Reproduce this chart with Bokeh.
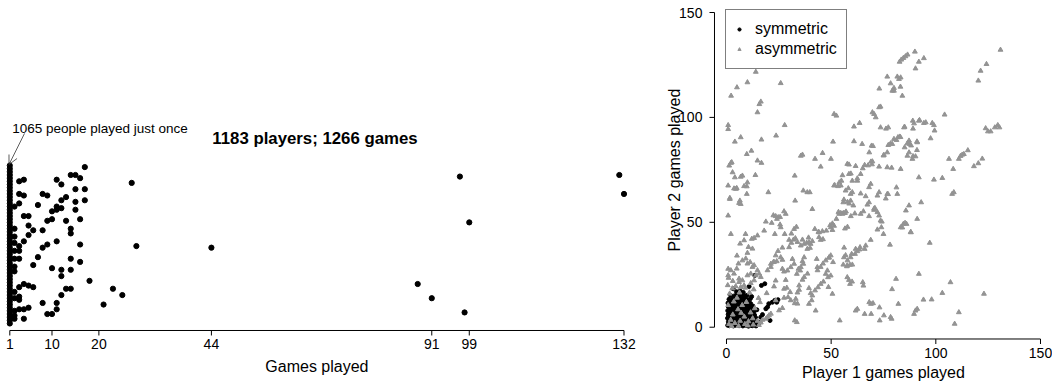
import math
from bokeh.plotting import figure
from bokeh.layouts import row
from bokeh.models import Range1d, Label, Arrow, OpenHead, Legend, LegendItem
from bokeh.core.properties import value
from bokeh.embed import file_html
from bokeh.resources import INLINE

FONT = "Liberation Sans"

# ---------------- left panel: games played per player (jittered strip) ----------------
tick_games = [1, 10, 20, 44, 91, 99, 132]
once_count = 1065
# vertical jitter of the 1065 players who played once (they merge into a bar)
once_jitter = [0.00, 0.02, 0.04, 0.06, 0.08, 0.10, 0.12, 0.14, 0.16, 0.18, 0.20, 0.22,
               0.24, 0.26, 0.28, 0.30, 0.32, 0.34, 0.36, 0.38, 0.40, 0.42, 0.44, 0.46,
               0.48, 0.50, 0.52, 0.54, 0.56, 0.58, 0.60, 0.62, 0.64, 0.66, 0.68, 0.70,
               0.72, 0.74, 0.76, 0.78, 0.80, 0.82, 0.84, 0.86, 0.88, 0.90, 0.92, 0.94,
               0.96, 0.98, 1.00]
once_games = [1] * len(once_jitter)

multi_games = [17, 14, 15, 16, 11, 3, 4, 12, 27, 17, 15, 8, 9, 3, 4, 17, 13, 12, 15, 7,
               3, 11, 12, 2, 15, 10, 11, 4, 5, 9, 10, 16, 13, 5, 14, 14, 8, 6, 2, 5,
               2, 4, 11, 16, 28, 44, 9, 8, 3, 2, 2, 3, 7, 2, 3, 14, 6, 16, 10, 12,
               2, 2, 12, 14, 18, 4, 5, 6, 23, 13, 14, 12, 25, 3, 2, 2, 3, 3, 8, 21,
               11, 11, 3, 4, 5, 9, 10, 2, 2, 2, 4, 97, 131, 132, 99, 88, 91, 98]
multi_jitter = [0.99, 0.94, 0.94, 0.92, 0.91, 0.90, 0.91, 0.88, 0.89, 0.85, 0.85, 0.82,
                0.81, 0.82, 0.81, 0.78, 0.80, 0.78, 0.77, 0.75, 0.76, 0.74, 0.73, 0.74,
                0.72, 0.71, 0.72, 0.68, 0.68, 0.65, 0.66, 0.66, 0.65, 0.62, 0.60, 0.57,
                0.59, 0.59, 0.60, 0.56, 0.55, 0.52, 0.52, 0.50, 0.49, 0.48, 0.50, 0.48,
                0.49, 0.51, 0.46, 0.46, 0.42, 0.41, 0.41, 0.41, 0.37, 0.39, 0.35, 0.34,
                0.36, 0.33, 0.30, 0.34, 0.27, 0.25, 0.24, 0.23, 0.22, 0.22, 0.22, 0.18,
                0.18, 0.23, 0.20, 0.16, 0.17, 0.15, 0.13, 0.12, 0.13, 0.09, 0.09, 0.09,
                0.10, 0.06, 0.06, 0.08, 0.05, 0.03, 0.03, 0.93, 0.94, 0.82, 0.64, 0.25,
                0.16, 0.07]

# ---------------- right panel: player 1 vs player 2 games played ----------------
sym_points = [
    (0.6, 0.9), (1.5, 0.7), (2.4, 1.1), (3.3, 0.6), (4.2, 0.9), (5.1, 1.2), (6.0, 0.7), (6.9, 1.0),
    (7.8, 0.6), (8.7, 1.1), (9.6, 0.8), (10.5, 0.5), (11.4, 1.0), (12.3, 0.7), (13.2, 1.2), (14.1, 0.6),
    (15.3, 1.6), (16.0, 2.4),
    (0.9, 2.6), (1.8, 2.2), (2.7, 2.9), (3.6, 2.4), (4.5, 2.7), (5.4, 2.1), (6.3, 2.8), (7.2, 2.3),
    (8.1, 2.6), (9.0, 2.0), (9.9, 2.9), (10.8, 2.4), (11.7, 2.7), (12.6, 2.2), (13.5, 2.8), (14.4, 2.5),
    (20.8, 3.2),
    (0.5, 4.3), (1.4, 4.0), (2.3, 4.6), (3.2, 4.1), (4.1, 4.5), (5.0, 3.9), (5.9, 4.4), (6.8, 4.0),
    (7.7, 4.7), (8.6, 4.2), (9.5, 3.9), (10.4, 4.5), (11.3, 4.1), (12.2, 4.6), (13.1, 4.0), (14.0, 4.4),
    (16.4, 4.8), (17.2, 6.0),
    (0.8, 6.1), (1.7, 5.7), (2.6, 6.3), (3.5, 5.9), (4.4, 6.2), (5.3, 5.6), (6.2, 6.0), (7.1, 6.4),
    (8.0, 5.8), (8.9, 6.2), (9.8, 5.7), (10.7, 6.3), (11.6, 5.9), (12.5, 6.1), (13.4, 5.8),
    (0.6, 7.9), (1.5, 7.5), (2.4, 8.1), (3.3, 7.6), (4.2, 8.0), (5.1, 7.4), (6.0, 7.9), (6.9, 8.2),
    (7.8, 7.6), (8.7, 8.0), (9.6, 7.5), (10.5, 8.1), (11.4, 7.7), (12.3, 8.2), (13.2, 7.6), (14.5, 8.3),
    (0.9, 9.7), (1.8, 9.3), (2.7, 9.9), (3.6, 9.4), (4.5, 9.8), (5.4, 9.2), (6.3, 9.7), (7.2, 10.0),
    (8.1, 9.4), (9.0, 9.8), (9.9, 9.3), (10.8, 9.9), (11.7, 9.5), (12.6, 10.1), (18.8, 8.8), (19.6, 9.6),
    (0.7, 11.5), (1.6, 11.1), (2.5, 11.7), (3.4, 11.2), (4.3, 11.6), (5.2, 11.0), (6.1, 11.5), (7.0, 11.8),
    (7.9, 11.2), (8.8, 11.6), (9.7, 11.1), (10.6, 11.7), (11.5, 11.3), (20.2, 11.2), (21.9, 11.9),
    (23.1, 12.8), (24.0, 11.9), (24.6, 13.1),
    (1.2, 13.3), (2.1, 12.9), (3.0, 13.5), (3.9, 13.0), (4.8, 13.4), (5.7, 12.8), (6.6, 13.3), (7.5, 13.6),
    (8.4, 13.0), (9.3, 13.4), (10.2, 12.9), (11.4, 13.6),
    (2.0, 15.1), (3.3, 14.8), (4.6, 15.3), (5.9, 14.9), (7.2, 15.4), (8.5, 15.0), (9.8, 15.2), (12.0, 14.6),
    (3.2, 18.3), (4.8, 16.9), (6.5, 17.2), (8.0, 16.6), (10.8, 19.4), (16.7, 19.9), (18.3, 20.7), (13.5, 24.7),
]
sym_p1 = [p[0] for p in sym_points]
sym_p2 = [p[1] for p in sym_points]

asym_points = [
    (130.9, 132.2), (90.0, 131.3), (82.7, 126.5), (83.5, 127.5), (84.5, 128.3), (85.5, 129.1), (86.5, 129.9),
    (91.9, 126.5), (94.3, 128.2), (90.3, 123.3), (124.2, 125.4), (121.4, 122.2), (120.3, 117.5),
    (14.0, 121.7), (10.0, 116.7), (25.9, 116.3), (5.0, 114.3), (2.2, 110.3), (16.4, 107.5), (15.7, 106.3),
    (14.8, 102.4), (0.8, 96.3), (0.8, 94.4), (27.8, 96.3), (23.7, 91.3), (4.0, 88.4), (6.8, 90.5),
    (16.7, 89.4), (9.7, 82.5), (11.9, 84.1), (14.8, 79.4), (16.7, 78.3), (13.8, 72.5), (1.3, 77.0),
    (2.1, 78.3), (2.5, 78.6), (2.9, 73.8), (4.0, 71.4), (6.8, 71.7), (7.6, 72.2), (0.8, 67.5), (4.5, 65.9),
    (4.9, 66.3), (1.6, 61.1), (6.4, 60.3), (6.8, 58.7), (6.0, 59.2), (10.0, 69.0), (9.7, 67.1), (9.7, 63.5),
    (20.0, 64.3), (0.8, 53.2), (2.1, 44.4), (9.1, 44.4), (5.0, 34.1), (10.0, 35.4), (0.8, 27.8), (5.7, 30.3),
    (51.4, 101.6), (52.5, 100.8), (60.9, 95.6), (63.6, 97.3), (69.7, 102.4), (70.5, 101.6), (71.3, 100.0),
    (73.0, 113.7), (72.9, 104.8), (73.6, 105.1), (76.8, 119.4), (79.2, 112.7), (81.6, 119.4), (82.4, 118.3),
    (83.2, 119.0), (80.0, 114.0), (78.4, 116.2), (84.0, 110.3), (73.6, 95.2), (76.2, 94.6), (77.3, 95.2),
    (84.8, 95.2), (89.0, 98.4), (89.6, 97.1), (91.9, 98.4), (94.3, 97.3), (98.3, 97.3), (99.1, 96.3),
    (99.4, 93.7), (97.5, 90.0), (104.2, 101.3), (91.1, 88.1), (87.2, 88.9), (86.4, 87.6), (87.5, 87.3),
    (80.0, 89.7), (81.9, 90.5), (82.7, 90.8), (77.3, 86.8), (78.4, 87.6), (79.2, 87.3), (75.2, 82.1),
    (76.8, 83.3), (68.2, 83.3), (69.3, 86.5), (64.8, 87.3), (60.9, 88.6), (50.9, 88.4), (42.3, 80.2),
    (45.0, 76.5), (45.9, 83.0), (49.9, 80.2), (35.5, 81.7), (36.3, 82.2), (32.6, 72.2), (57.7, 77.8),
    (58.5, 77.5), (61.7, 76.8), (65.1, 75.7), (66.0, 77.3), (69.0, 78.9), (69.5, 77.6), (67.6, 77.1),
    (72.9, 76.5), (76.8, 76.2), (78.9, 76.0), (83.2, 75.4), (86.4, 81.7), (87.2, 83.3), (90.3, 81.4),
    (88.8, 80.2), (91.9, 71.4), (99.1, 70.3), (103.1, 71.1), (106.3, 80.2), (108.3, 75.4), (111.0, 80.2),
    (111.8, 81.6), (112.6, 82.2), (113.4, 82.5), (115.3, 84.3), (118.2, 76.7), (120.3, 78.1), (122.2, 80.3),
    (123.8, 94.8), (124.9, 93.3), (126.2, 93.3), (128.2, 95.2), (129.6, 96.3), (130.4, 95.2), (107.8, 63.5),
    (108.6, 64.3), (93.0, 59.5), (91.1, 51.6), (97.1, 40.2), (85.7, 55.6), (87.2, 58.0), (83.2, 47.6),
    (84.5, 49.2), (85.3, 49.7), (88.1, 45.2), (86.0, 49.2), (81.6, 63.5), (76.8, 63.5), (72.9, 64.3),
    (68.9, 68.3), (68.1, 66.7), (64.1, 73.0), (62.5, 69.8), (60.1, 69.8), (59.3, 63.5), (60.1, 64.3),
    (58.2, 66.2), (56.9, 65.1), (54.6, 67.5), (53.9, 69.0), (54.9, 69.8), (51.4, 67.5), (58.5, 73.0),
    (36.7, 65.1), (38.6, 64.3), (39.8, 64.3), (41.0, 56.3), (32.8, 60.3), (27.5, 55.2), (28.3, 54.0),
    (23.5, 52.9), (24.7, 52.4), (24.1, 51.6), (25.6, 48.9), (25.9, 47.6), (18.0, 46.0), (12.1, 42.1),
    (13.2, 42.5), (14.8, 43.7), (23.1, 44.4), (27.8, 44.4), (18.8, 50.3), (29.9, 41.6), (32.0, 41.7),
    (32.9, 42.4), (35.5, 38.9), (37.1, 39.7), (38.3, 40.2), (39.4, 40.5), (40.2, 39.7), (41.0, 41.0),
    (42.2, 46.8), (44.2, 45.2), (45.8, 45.7), (44.2, 42.9), (45.0, 41.6), (46.1, 41.9), (47.7, 46.0),
    (49.8, 47.6), (50.6, 46.3), (51.4, 48.3), (52.5, 51.6), (53.8, 54.0), (54.6, 54.4), (55.4, 54.0),
    (55.8, 54.4), (56.6, 54.4), (57.1, 55.1), (55.8, 59.5), (56.1, 60.8), (59.3, 60.3), (60.6, 58.0),
    (64.1, 54.0), (65.4, 55.2), (67.3, 58.4), (68.1, 59.5), (70.5, 55.9), (70.9, 56.8), (72.1, 62.7),
    (72.1, 54.8), (72.9, 53.2), (73.6, 50.8), (74.0, 47.6), (68.1, 52.9), (68.9, 41.6), (66.5, 38.9),
    (66.0, 37.3), (61.7, 37.3), (62.5, 36.2), (63.5, 37.0), (63.8, 38.1), (61.4, 34.9), (59.3, 33.3),
    (59.8, 34.9), (56.1, 33.3), (56.9, 34.3), (55.8, 29.8), (57.7, 29.4), (59.0, 29.7), (60.1, 29.8),
    (50.9, 31.0), (49.0, 33.3), (48.2, 27.0), (47.4, 25.4), (48.5, 23.8), (49.8, 24.6), (46.3, 21.7),
    (45.0, 20.6), (43.7, 19.0), (42.3, 17.5), (41.0, 15.1), (39.4, 18.6), (39.4, 11.1), (37.1, 33.3),
    (36.3, 31.4), (36.7, 30.2), (35.5, 28.6), (34.4, 27.8), (35.2, 27.0), (38.6, 37.3), (39.9, 37.8),
    (43.1, 32.5), (43.4, 28.6), (29.9, 38.1), (31.0, 40.2), (31.5, 32.5), (32.3, 30.2), (33.6, 25.4),
    (33.9, 16.5), (34.7, 17.8), (29.1, 27.0), (30.7, 28.6), (28.3, 22.5), (26.7, 27.8), (27.5, 26.5),
    (25.9, 33.3), (26.7, 32.1), (24.0, 31.4), (22.7, 31.1), (21.2, 30.2), (23.5, 22.2), (22.7, 19.4),
    (19.2, 16.2), (33.1, 13.5), (32.6, 11.4), (32.6, 3.2), (33.6, 2.4), (42.6, 7.9), (54.1, 3.2),
    (61.7, 7.9), (62.5, 8.7), (66.0, 6.3), (68.2, 11.9), (69.0, 11.1), (70.0, 11.4), (69.1, 6.3),
    (73.2, 3.2), (75.2, 5.6), (78.4, 4.8), (78.9, 4.0), (82.1, 11.1), (81.0, 23.0), (89.6, 6.3),
    (90.3, 7.9), (91.1, 8.7), (91.9, 25.4), (65.1, 21.4), (65.4, 19.8), (50.6, 15.9), (57.7, 23.8),
    (58.5, 22.5), (59.0, 20.6), (60.0, 21.7), (103.1, 16.3), (107.0, 21.4), (111.0, 7.1), (109.0, 1.6),
    (123.0, 15.9), (78.1, 39.3), (79.1, 18.1), (94.1, 13.1), (98.0, 13.2), (73.1, 9.4), (74.2, 50.3),
    (75.0, 44.4), (72.1, 46.5), (81.2, 66.6), (77.2, 63.4), (76.1, 61.3), (88.0, 45.4), (84.0, 47.5),
    (89.1, 94.6), (92.2, 98.7), (95.2, 97.6), (85.1, 95.5), (88.2, 86.6), (91.0, 88.5), (91.0, 84.4),
    (89.1, 81.5), (69.7, 79.0), (75.0, 81.8), (70.0, 86.3), (81.2, 89.2), (83.1, 90.6), (85.1, 85.7),
    (80.0, 112.7), (83.1, 114.6), (43.5, 27.1), (45.0, 28.7), (46.1, 30.3), (47.4, 31.8), (48.9, 33.1),
    (49.8, 34.2), (40.7, 12.8), (40.2, 16.2), (34.7, 19.9), (36.3, 22.6), (37.1, 23.9), (38.7, 25.5),
    (33.9, 11.2), (27.5, 18.3), (28.8, 18.8), (30.7, 12.8), (29.4, 14.3), (23.5, 12.8), (27.5, 14.0),
    (30.4, 16.7), (25.1, 8.0), (26.7, 9.1), (19.6, 4.8), (20.3, 5.6), (21.2, 6.4), (17.2, 3.5), (18.8, 4.0),
    (15.3, 13.9), (16.0, 11.9), (6.5, 39.8), (8.4, 41.4), (10.5, 38.2), (12.4, 37.4), (7.6, 31.8),
    (9.2, 32.7), (10.0, 30.3), (11.3, 31.0), (12.4, 28.7), (13.2, 29.5), (14.8, 27.1), (14.0, 24.7),
    (15.6, 25.5), (16.4, 23.9), (19.6, 27.1), (21.2, 28.7), (22.4, 31.0), (23.5, 34.2), (24.6, 36.3),
    (26.7, 37.9), (4.9, 27.9), (3.6, 25.5), (6.0, 23.1), (7.6, 22.3), (10.0, 24.7), (11.6, 25.5),
    (13.2, 22.3), (11.6, 21.0), (2.1, 27.1), (0.8, 24.7), (8.4, 19.9), (6.8, 19.1), (31.0, 44.6),
    (32.3, 46.8), (33.4, 47.8), (33.9, 40.6), (36.3, 41.7), (39.2, 42.7), (43.9, 45.4), (49.5, 48.6),
    (50.6, 49.4), (53.5, 54.9), (58.6, 58.9), (57.8, 59.7), (51.7, 67.7), (53.3, 67.2), (55.4, 72.4),
    (59.4, 73.2), (62.5, 70.9), (64.1, 63.7), (66.5, 62.4), (70.5, 56.5), (59.4, 52.9), (61.3, 54.2),
    (56.6, 47.0), (57.8, 47.8), (56.2, 37.9), (57.8, 31.8), (57.5, 29.0), (48.7, 19.1), (1.6, 61.6),
    (3.6, 66.1), (8.4, 67.2), (22.4, 53.3), (25.6, 52.5), (21.6, 49.7),
    (1.2, 1.5), (2.0, 3.5), (3.0, 6.0), (4.0, 2.0), (5.5, 8.5), (6.5, 3.0), (7.5, 10.5), (8.5, 5.0),
    (9.5, 12.0), (10.5, 2.8), (11.5, 7.0), (12.5, 4.2), (13.5, 9.0), (3.5, 12.2), (5.0, 14.0), (7.0, 6.8),
    (8.8, 1.5), (0.8, 10.5), (1.5, 16.0), (0.6, 20.0), (2.8, 18.5), (4.4, 19.5), (6.2, 16.5), (12.8, 1.2),
    (14.8, 3.0), (15.5, 1.0), (16.4, 2.2), (11.0, 16.5), (13.0, 18.0), (9.0, 18.8), (6.0, 21.5),
    (3.0, 22.0), (1.0, 23.5), (10.2, 0.8), (5.8, 0.6), (2.5, 0.5),
]
asym_p1 = [p[0] for p in asym_points]
asym_p2 = [p[1] for p in asym_points]
axis_ticks = [0, 50, 100, 150]

BLACK = "black"
GRAY = "#939393"
TXT = dict(text_font=value(FONT), text_color=BLACK)

# ---------------- left figure (R-style axis drawn in data space) ----------------
left = figure(width=640, height=381, output_backend="svg", toolbar_location=None,
              x_range=Range1d(-0.9836, 135.52), y_range=Range1d(-0.3671, 2.0443),
              min_border_left=0, min_border_right=0, min_border_top=0, min_border_bottom=0)
left.grid.visible = False
left.outline_line_color = None
left.xaxis.visible = False
left.yaxis.visible = False

l_axis_y, l_tick_end, l_lab_y, l_title_y = -0.0443, -0.0759, -0.1266, -0.272
m = len(tick_games)
left.segment(x0=[tick_games[0]], y0=[l_axis_y], x1=[tick_games[-1]], y1=[l_axis_y],
             line_color=BLACK, line_width=1)
left.segment(x0=tick_games, y0=[l_axis_y] * m, x1=tick_games, y1=[l_tick_end] * m,
             line_color=BLACK, line_width=1)
left.text(x=tick_games, y=[l_lab_y] * m, text=[str(t) for t in tick_games],
          text_font_size=value("14px"), text_align="center", text_baseline="middle", **TXT)
left.text(x=[(tick_games[0] + tick_games[-1]) / 2], y=[l_title_y], text=["Games played"],
          text_font_size=value("16px"), text_align="center", text_baseline="middle", **TXT)

left.scatter(x=once_games, y=once_jitter, size=5.2, color=BLACK, marker="circle")
left.scatter(x=multi_games, y=multi_jitter, size=5.2, color=BLACK, marker="circle")

left.add_layout(Label(x=1.51, y=1.234, text="1065 people played just once", text_font=FONT,
                      text_font_size="13.5px", text_baseline="middle", text_align="left",
                      text_color=BLACK))
left.add_layout(Label(x=44.2, y=1.171, text="1183 players; 1266 games", text_font=FONT,
                      text_font_size="16.8px", text_font_style="bold", text_baseline="middle",
                      text_align="left", text_color=BLACK))
left.add_layout(Arrow(x_start=4.14, y_start=1.203, x_end=0.83, y_end=1.006,
                      line_color="#333333", line_width=0.8,
                      end=OpenHead(size=9, line_color="#333333", line_width=0.8)))

# ---------------- right figure (R-style detached axes drawn in data space) ----------------
right = figure(width=412, height=381, output_backend="svg", toolbar_location=None,
               x_range=Range1d(-41.08, 155.74), y_range=Range1d(-25.88, 155.72),
               min_border_left=0, min_border_right=0, min_border_top=0, min_border_bottom=0)
right.grid.visible = False
right.outline_line_color = None
right.xaxis.visible = False
right.yaxis.visible = False

x_axis_y, x_tick_end, x_lab_y, x_title_y = -5.62, -8.01, -12.1, -21.6
y_axis_x, y_tick_end, y_lab_x, y_title_x = -5.73, -8.12, -11.5, -24.9
n = len(axis_ticks)
right.segment(x0=[axis_ticks[0]], y0=[x_axis_y], x1=[axis_ticks[-1]], y1=[x_axis_y],
              line_color=BLACK, line_width=1)
right.segment(x0=axis_ticks, y0=[x_axis_y] * n, x1=axis_ticks, y1=[x_tick_end] * n,
              line_color=BLACK, line_width=1)
right.segment(x0=[y_axis_x], y0=[axis_ticks[0]], x1=[y_axis_x], y1=[axis_ticks[-1]],
              line_color=BLACK, line_width=1)
right.segment(x0=[y_axis_x] * n, y0=axis_ticks, x1=[y_tick_end] * n, y1=axis_ticks,
              line_color=BLACK, line_width=1)
tick_text = [str(t) for t in axis_ticks]
right.text(x=axis_ticks, y=[x_lab_y] * n, text=tick_text, text_font_size=value("14px"),
           text_align="center", text_baseline="middle", **TXT)
right.text(x=[y_lab_x] * n, y=axis_ticks, text=tick_text, text_font_size=value("14px"),
           text_align="right", text_baseline="middle", **TXT)
right.text(x=[(axis_ticks[0] + axis_ticks[-1]) / 2], y=[x_title_y], text=["Player 1 games played"],
           text_font_size=value("16px"), text_align="center", text_baseline="middle", **TXT)
right.text(x=[y_title_x], y=[74.9], text=["Player 2 games played"], angle=math.pi / 2,
           text_font_size=value("16px"), text_align="center", text_baseline="middle", **TXT)

r_sym = right.scatter(x=sym_p1, y=sym_p2, size=4.0, color=BLACK, marker="circle")
r_asym = right.scatter(x=asym_p1, y=asym_p2, size=4.8, color=GRAY, marker="triangle")

legend = Legend(items=[LegendItem(label="symmetric", renderers=[r_sym]),
                       LegendItem(label="asymmetric", renderers=[r_asym])],
                location=(85, 312), margin=0, padding=9, spacing=0,
                label_height=20, glyph_height=20, glyph_width=8, label_standoff=12,
                label_text_font=FONT, label_text_font_size="16px", label_text_color=BLACK,
                border_line_color=BLACK, border_line_width=1,
                background_fill_color="white", background_fill_alpha=1.0)
right.add_layout(legend)

layout = row(left, right)
open("out.html", "w").write(file_html(layout, INLINE))
